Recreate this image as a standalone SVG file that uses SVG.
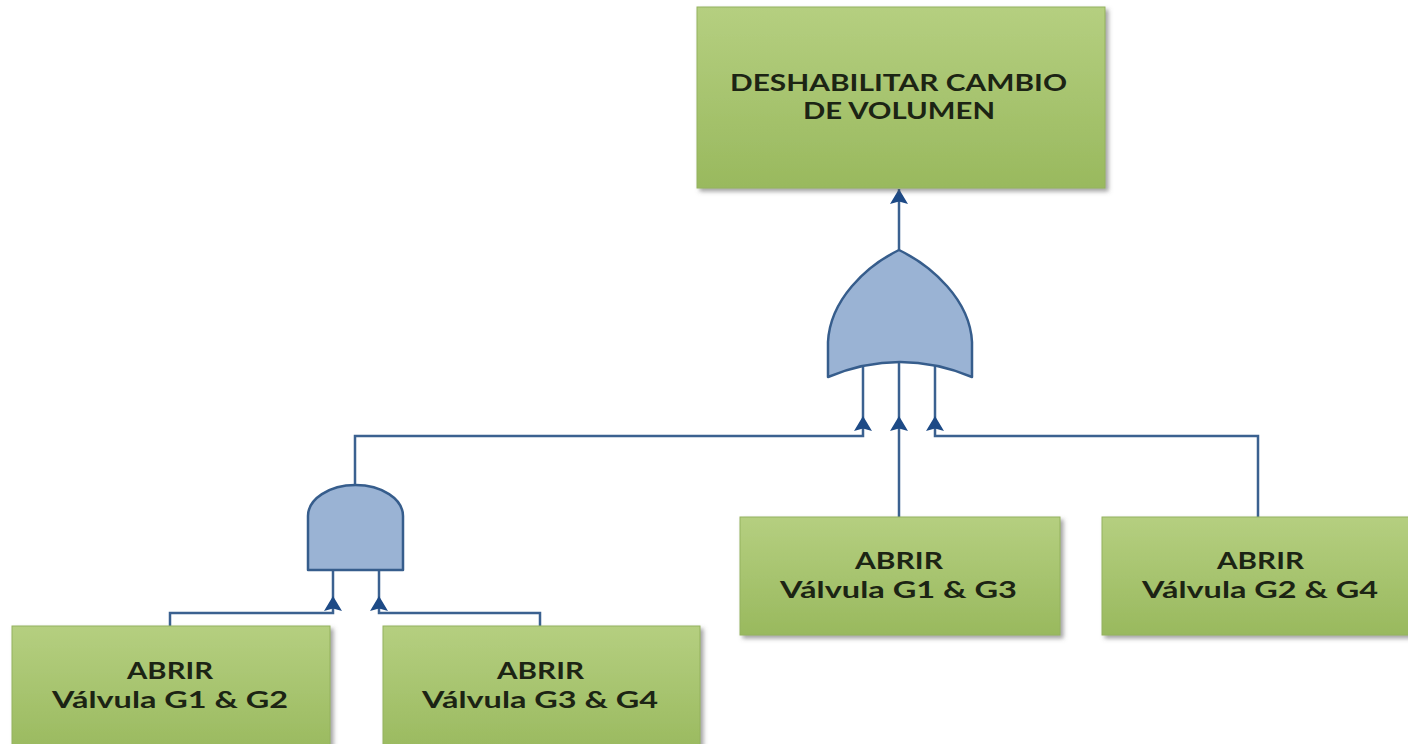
<svg xmlns="http://www.w3.org/2000/svg" width="1408" height="744" viewBox="0 0 1408 744">
  <style>
    .box { fill: url(#gGreen); stroke: #94b25e; stroke-width: 1; filter: url(#shadow); }
    .gate { fill: #9ab3d4; stroke: #365d8c; stroke-width: 2.5; stroke-linejoin: round; }
    .wire { fill: none; stroke: #3b6190; stroke-width: 2.5; }
    .arr { marker-end: url(#ah); }
    .lbl { font-family: Lato, "Liberation Sans", sans-serif; font-weight: bold; font-size: 23px; fill: #1c2414; text-anchor: middle; }
  </style>
  <defs>
    <linearGradient id="gGreen" x1="0" y1="0" x2="0" y2="1">
      <stop offset="0" stop-color="#b5cf80"/>
      <stop offset="1" stop-color="#99b95e"/>
    </linearGradient>
    <filter id="shadow" x="-5%" y="-5%" width="115%" height="120%">
      <feDropShadow dx="3" dy="3" stdDeviation="2" flood-color="#555" flood-opacity="0.55"/>
    </filter>
    <marker id="ah" viewBox="0 -9 15 18" refX="15" refY="0" markerWidth="15" markerHeight="18" markerUnits="userSpaceOnUse" orient="auto">
      <path d="M15,0 L0,-9 L2.5,0 L0,9 Z" fill="#1d4a86"/>
    </marker>
  </defs>
  <rect width="1408" height="744" fill="#ffffff"/>

  <g id="connectors">
    <path class="wire arr" d="M899,250 V189"/>
    <path class="wire arr" d="M355,485 V436 H863 V416"/>
    <path class="wire" d="M863,416 V366"/>
    <path class="wire arr" d="M899,517 V416"/>
    <path class="wire" d="M899,416 V362"/>
    <path class="wire arr" d="M1258,517 V436 H935 V416"/>
    <path class="wire" d="M935,416 V366"/>
    <path class="wire arr" d="M170,626 V613 H333 V596"/>
    <path class="wire" d="M333,596 V570"/>
    <path class="wire arr" d="M540,626 V613 H379 V596"/>
    <path class="wire" d="M379,596 V570"/>
  </g>

  <g id="top-event">
    <rect class="box" x="697" y="7" width="408" height="181"/>
    <text class="lbl" x="898.5" y="91" textLength="337" lengthAdjust="spacingAndGlyphs">DESHABILITAR CAMBIO</text>
    <text class="lbl" x="899" y="119" textLength="192" lengthAdjust="spacingAndGlyphs">DE VOLUMEN</text>
  </g>

  <g id="or-gate">
    <path class="gate" d="M828,377 L828,342 C830,300 866,266 899,250 C932,266 970,300 972,342 L972,377 Q900,347 828,377 Z"/>
  </g>

  <g id="and-gate">
    <path class="gate" d="M308,570 L308,516 A47.5,31 0 0 1 403,516 L403,570 Z"/>
  </g>

  <g id="event-g1-g2">
    <rect class="box" x="12" y="626" width="318" height="130"/>
    <text class="lbl" x="170" y="679" textLength="86" lengthAdjust="spacingAndGlyphs">ABRIR</text>
    <text class="lbl" x="170" y="708" textLength="236" lengthAdjust="spacingAndGlyphs">Válvula G1 &amp; G2</text>
  </g>

  <g id="event-g3-g4">
    <rect class="box" x="383" y="626" width="317" height="130"/>
    <text class="lbl" x="540.5" y="679" textLength="87" lengthAdjust="spacingAndGlyphs">ABRIR</text>
    <text class="lbl" x="540" y="708" textLength="236" lengthAdjust="spacingAndGlyphs">Válvula G3 &amp; G4</text>
  </g>

  <g id="event-g1-g3">
    <rect class="box" x="740" y="517" width="320" height="118"/>
    <text class="lbl" x="899" y="569" textLength="88" lengthAdjust="spacingAndGlyphs">ABRIR</text>
    <text class="lbl" x="898.5" y="598" textLength="237" lengthAdjust="spacingAndGlyphs">Válvula G1 &amp; G3</text>
  </g>

  <g id="event-g2-g4">
    <rect class="box" x="1102" y="517" width="320" height="118"/>
    <text class="lbl" x="1260.5" y="569" textLength="87" lengthAdjust="spacingAndGlyphs">ABRIR</text>
    <text class="lbl" x="1260" y="598" textLength="236" lengthAdjust="spacingAndGlyphs">Válvula G2 &amp; G4</text>
  </g>
</svg>
